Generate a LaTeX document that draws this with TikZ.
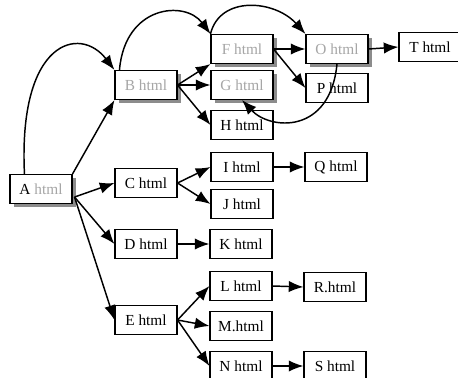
\documentclass[tikz,border=0pt]{standalone}
\usepackage{fontspec}
\setmainfont{Liberation Serif}
\usetikzlibrary{arrows.meta,calc}

\begin{document}
\begin{tikzpicture}[x=0.75pt,y=-0.75pt,
    page/.style={draw, line width=0.8pt, fill=white, inner sep=1pt,
      minimum width=46.5pt, minimum height=21.75pt,
      font=\fontsize{11.5}{13}\selectfont},
    visited/.style={page, text=black!35,
      preaction={draw=none, fill=black!45,
        transform canvas={shift={(3pt,-3pt)}}}},
    link/.style={draw, line width=1.1pt, -{Latex[length=11pt,width=8.5pt]}}]
  \useasboundingbox (0,0) rectangle (458,378);

  % first column
  \node[visited] (ahtml) at (41,189) {\textcolor{black}{A} html};

  % second column
  \node[visited] (bhtml) at (146,85) {B html};
  \node[page] (chtml) at (146,183) {C html};
  \node[page] (dhtml) at (146,244) {D html};
  \node[page] (ehtml) at (146,320) {E html};

  % third column
  \node[visited] (fhtml) at (242,49) {F html};
  \node[visited] (ghtml) at (242,85) {G html};
  \node[page] (hhtml) at (242,125) {H html};
  \node[page] (ihtml) at (242,167) {I html};
  \node[page] (jhtml) at (242,204) {J html};
  \node[page] (khtml) at (241,244) {K html};
  \node[page] (lhtml) at (241,286) {L html};
  \node[page] (mhtml) at (241,326) {M.html};
  \node[page] (nhtml) at (241,366) {N html};

  % fourth column
  \node[visited] (ohtml) at (337,49) {O html};
  \node[page] (phtml) at (337,88) {P html};
  \node[page] (qhtml) at (336,167) {Q html};
  \node[page] (rhtml) at (335,287) {R.html};
  \node[page] (shtml) at (335,366) {S html};

  % last one
  \node[page] (thtml) at (430,47) {T html};

  \coordinate (aout) at ($(ahtml.south east)+(2,-7)$);

  \path[link] (ahtml.north east) -- (bhtml.south west);
  \path[link] (aout) -- (chtml.west);
  \path[link] (aout) -- (dhtml.west);
  \path[link] (aout) -- (ehtml.west);

  \path[link] (bhtml.east) -- (fhtml.south west);
  \path[link] (bhtml.east) -- (ghtml.west);
  \path[link] (bhtml.east) -- (hhtml.west);
  \path[link] (chtml.east) -- (ihtml.west);
  \path[link] (chtml.east) -- (jhtml.west);
  \path[link] (dhtml.east) -- (khtml.west);
  \path[link] (ehtml.east) -- (lhtml.west);
  \path[link] (ehtml.east) -- (mhtml.west);
  \path[link] (ehtml.east) -- (nhtml.west);

  \path[link] (fhtml.east) -- (ohtml.west);
  \path[link] (fhtml.east) -- (phtml.west);
  \path[link] (ihtml.east) -- (qhtml.west);
  \path[link] (lhtml.east) -- (rhtml.west);
  \path[link] (nhtml.east) -- (shtml.west);
  \path[link] (ohtml.east) -- (thtml.west);

  % links that jump over the columns
  \path[link] (ahtml.north west) ++(15,0) .. controls (18,40) and (80,25) ..
                  (bhtml.north west);
  \path[link] (bhtml.north west) ++(5,0) .. controls (125,5) and (185,0) ..
                  (fhtml.north west);
  \path[link] (fhtml.north west) .. controls (220,-5) and (275,0) ..
                  (ohtml.north west);
  \path[link] (ohtml.south) .. controls (330,135) and (270,130) ..
                  (ghtml.south);

\end{tikzpicture}
\end{document}
